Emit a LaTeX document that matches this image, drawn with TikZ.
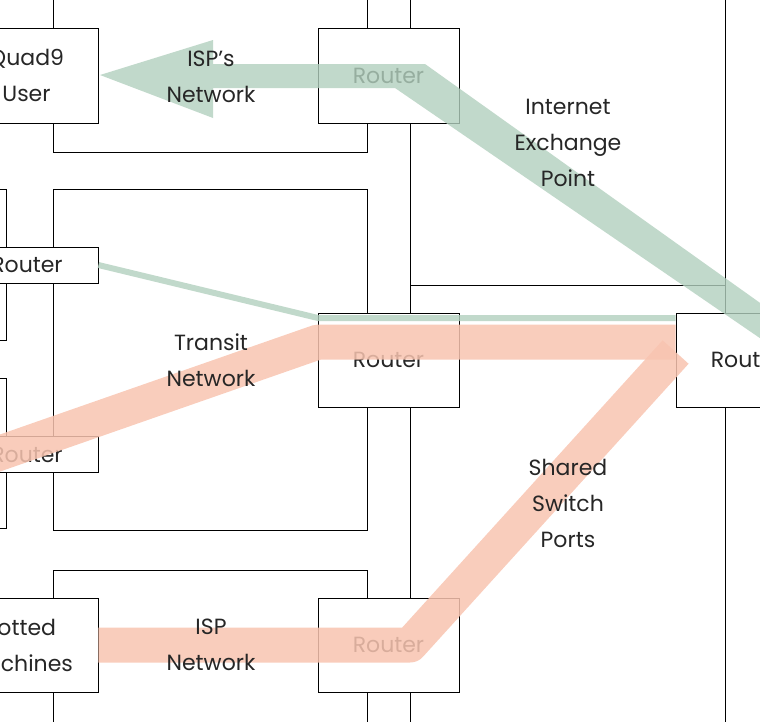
\documentclass[tikz,border=0pt]{standalone}
\usepackage{fontspec}
\setmainfont{Poppins}
\definecolor{gflow}{RGB}{178,208,190}
\definecolor{sflow}{RGB}{248,196,176}
\begin{document}
\begin{tikzpicture}[x=1pt,y=-1pt,
  box/.style={draw=black,line width=0.8pt},
  lbl/.style={align=center,font=\fontsize{22}{36}\selectfont,text=black!85},
  green/.style={draw=none,fill=gflow,opacity=0.8},
  sal/.style={line width=35pt,draw=sflow,opacity=0.85,line join=round}]
\useasboundingbox (0,0) rectangle (760,721);
\clip (0,0) rectangle (760,721);
% big boxes
\draw[box] (53,-5) rectangle (367,152);
\draw[box] (410,-5) rectangle (725,285);
\draw[box] (53,189) rectangle (367,530);
\draw[box] (410,285) rectangle (725,730);
\draw[box] (53,570) rectangle (367,730);
\draw[box] (-60,189) rectangle (6,340);
\draw[box] (-60,378) rectangle (6,528);
% small boxes
\node[box,fill=white,minimum width=143pt,minimum height=95pt,lbl] (q9) at (26.5,75.5) {Quad9\\User};
\node[box,fill=white,minimum width=141pt,minimum height=95pt,lbl] (rt) at (388.5,75.5) {Router};
\node[box,fill=white,minimum width=142pt,minimum height=36pt,lbl,inner sep=0pt] (rl1) at (27,265) {Router};
\node[box,fill=white,minimum width=142pt,minimum height=36pt,lbl,inner sep=0pt] (rl2) at (27,454.5) {Router};
\node[box,fill=white,minimum width=141pt,minimum height=94pt,lbl] (rc) at (388.5,360) {Router};
\node[box,fill=white,minimum width=141pt,minimum height=94pt,lbl] (rr) at (746.5,360) {Router};
\node[box,fill=white,minimum width=156pt,minimum height=94pt,lbl] (bm) at (20,645) {Botted\\Machines};
\node[box,fill=white,minimum width=141pt,minimum height=94pt,lbl] (rb) at (388.5,645) {Router};
% green flows
\fill[green] (100,75) -- (213,40) -- (213,64) -- (405,64) -- (425,64) -- (770,310) -- (770,345) -- (395,88) -- (213,88) -- (213,118) -- cycle;
\draw[draw=gflow,opacity=0.8,line width=6pt] (rl1.east) -- (318,318) -- (rr.west|-0,318);
% salmon flows
\draw[sal] (-20,460) -- (318,342) -- (rr.west|-0,342);
\draw[sal] (rr.west|-0,352) -- (410,645) -- (bm.east|-0,645);
% labels
\node[lbl] (l1) at (211,77) {ISP's\\Network};
\node[lbl] (l2) at (568,143) {Internet\\Exchange\\Point};
\node[lbl] (l3) at (211,360) {Transit\\Network};
\node[lbl] (l4) at (568,503) {Shared\\Switch\\Ports};
\node[lbl] (l5) at (211,645) {ISP\\Network};
\end{tikzpicture}
\end{document}
